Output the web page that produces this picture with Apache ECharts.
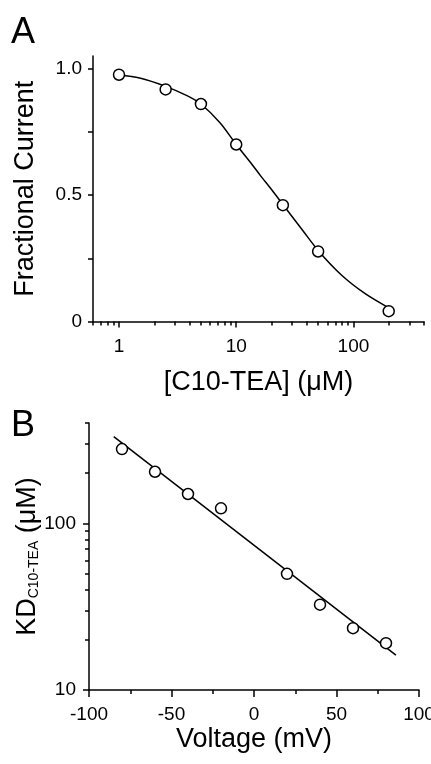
<!DOCTYPE html>
<html>
<head>
<meta charset="UTF-8">
<title>C10-TEA block</title>
<script src="https://cdn.jsdelivr.net/npm/echarts@6/dist/echarts.min.js"></script>
<style>
html, body { margin: 0; padding: 0; background: #fff; }
#main { width: 431px; height: 764px; }
</style>
</head>
<body>
<div id="main"></div>
<script>
// panel A: fractional current vs [C10-TEA]
var concA = [1, 2.5, 5, 10, 25, 50, 200];
var fracA = [0.976, 0.918, 0.860, 0.700, 0.460, 0.277, 0.041];
// fitted curve
var fitConcA = [1, 1.5, 2.5, 3.8, 5, 7.3, 10, 13.7, 16.1, 20, 25.1, 36, 50.8, 79.8, 126, 195];
var fitFracA = [0.975, 0.963, 0.93, 0.893, 0.86, 0.785, 0.70, 0.62, 0.577, 0.522, 0.462, 0.367, 0.277, 0.182, 0.110, 0.057];
var labelsAx = [1, 10, 100];
var minorAx = [0.6, 0.7, 0.8, 0.9, 2, 3, 4, 5, 6, 7, 8, 9, 20, 30, 40, 50, 60, 70, 80, 90, 200, 300, 400];
var labelsAy = [0, 0.5, 1];
var ticksAy = [0, 0.25, 0.5, 0.75, 1];

// panel B: KD vs voltage
var voltB = [-80, -60, -40, -20, 20, 40, 60, 80];
var kdB = [279, 204, 150, 123, 49.8, 32.5, 23.5, 19.1];
var fitVoltB = [-85, 86];
var fitKdB = [331, 16.2];
var labelsBy = [10, 100];
var minorBy = [20, 30, 40, 50, 60, 70, 80, 90, 200, 300, 400];

function pairs(xs, ys) {
	var out = [];
	for (var i = 0; i < xs.length; i++) {
		out.push([xs[i], ys[i]]);
	}
	return out;
}

var FONT = 'Liberation Sans';
var black = { color: '#000', width: 1.5 };

var option = {
	animation: false,
	backgroundColor: '#fff',
	textStyle: { fontFamily: FONT, color: '#000' },
	graphic: [
		{ type: 'text', left: 11, top: 15, style: { text: 'A', font: '36px ' + FONT, fill: '#000' } },
		{ type: 'text', left: 11, top: 408, style: { text: 'B', font: '36px ' + FONT, fill: '#000' } }
	],
	grid: [
		{ left: 93, top: 56, width: 331, height: 265.5, outerBoundsMode: 'none' },
		{ left: 89, top: 423, width: 330, height: 267, outerBoundsMode: 'none' }
	],
	xAxis: [
		{
			gridIndex: 0, type: 'log', min: 0.6, max: 400, position: 'bottom',
			axisLine: { onZero: false, lineStyle: black },
			axisTick: { customValues: minorAx, length: 4, lineStyle: black },
			axisLabel: { customValues: labelsAx, margin: 16, fontSize: 19, color: '#000',
				formatter: function (v) { return String(v); } },
			splitLine: { show: false },
			name: '[C10-TEA] (μM)', nameLocation: 'middle', nameGap: 48,
			nameTextStyle: { fontSize: 27, color: '#000' }
		},
		{
			// major ticks, a bit longer
			gridIndex: 0, type: 'log', min: 0.6, max: 400, position: 'bottom',
			axisLine: { show: false, onZero: false },
			axisTick: { customValues: labelsAx, length: 6, lineStyle: black },
			axisLabel: { show: false },
			splitLine: { show: false }
		},
		{
			gridIndex: 1, type: 'value', min: -100, max: 100, interval: 50,
			axisLine: { onZero: false, lineStyle: black },
			axisTick: { length: 7, lineStyle: black },
			minorTick: { show: true, splitNumber: 2, length: 4, lineStyle: black },
			axisLabel: { margin: 15, fontSize: 19, color: '#000' },
			splitLine: { show: false },
			name: 'Voltage (mV)', nameLocation: 'middle', nameGap: 36,
			nameTextStyle: { fontSize: 27, color: '#000' }
		}
	],
	yAxis: [
		{
			gridIndex: 0, type: 'value', min: 0, max: 1.05, position: 'left',
			axisLine: { show: true, onZero: false, lineStyle: black },
			axisTick: { show: true, customValues: ticksAy, length: 5, lineStyle: black },
			axisLabel: { customValues: labelsAy, margin: 11, fontSize: 19, color: '#000',
				formatter: function (v) { return v === 0 ? '0' : v.toFixed(1); } },
			splitLine: { show: false },
			name: 'Fractional Current', nameLocation: 'middle', nameGap: 54, nameRotate: 90,
			nameTextStyle: { fontSize: 27, color: '#000' }
		},
		{
			gridIndex: 1, type: 'log', min: 10, max: 400, position: 'left',
			axisLine: { show: true, onZero: false, lineStyle: black },
			axisTick: { show: true, customValues: minorBy, length: 4, lineStyle: black },
			axisLabel: { customValues: labelsBy, margin: 13, fontSize: 19, color: '#000',
				formatter: function (v) { return String(v); } },
			splitLine: { show: false },
			name: '{a|KD}{b|C10-TEA}{a| (μM)}', nameLocation: 'middle', nameGap: 48, nameRotate: 90,
			nameMoveOverlap: false,
			nameTextStyle: {
				color: '#000',
				rich: {
					a: { fontSize: 27, fontFamily: FONT, color: '#000' },
					b: { fontSize: 14, fontFamily: FONT, color: '#000', verticalAlign: 'bottom' }
				}
			}
		},
		{
			gridIndex: 1, type: 'log', min: 10, max: 400, position: 'left',
			axisLine: { show: false, onZero: false },
			axisTick: { show: true, customValues: labelsBy, length: 6, lineStyle: black },
			axisLabel: { show: false },
			splitLine: { show: false }
		}
	],
	series: [
		{
			name: 'fit A', type: 'line', xAxisIndex: 0, yAxisIndex: 0,
			data: pairs(fitConcA, fitFracA),
			symbol: 'none', smooth: 0.3,
			lineStyle: { color: '#000', width: 1.5 }, z: 2
		},
		{
			name: 'data A', type: 'scatter', xAxisIndex: 0, yAxisIndex: 0,
			data: pairs(concA, fracA),
			symbol: 'circle', symbolSize: 11,
			itemStyle: { color: '#fff', borderColor: '#000', borderWidth: 1.5, opacity: 1 }, z: 3
		},
		{
			name: 'fit B', type: 'line', xAxisIndex: 2, yAxisIndex: 1,
			data: pairs(fitVoltB, fitKdB),
			symbol: 'none',
			lineStyle: { color: '#000', width: 1.5 }, z: 2
		},
		{
			name: 'data B', type: 'scatter', xAxisIndex: 2, yAxisIndex: 1,
			data: pairs(voltB, kdB),
			symbol: 'circle', symbolSize: 11,
			itemStyle: { color: '#fff', borderColor: '#000', borderWidth: 1.5, opacity: 1 }, z: 3
		}
	]
};

var myChart = echarts.init(document.getElementById('main'));
myChart.setOption(option);
</script>
</body>
</html>
